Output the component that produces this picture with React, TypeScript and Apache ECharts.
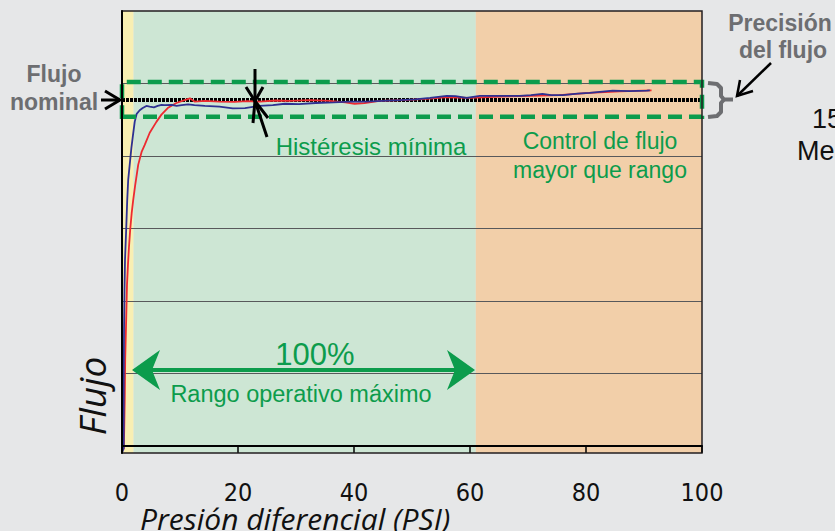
import React, { useEffect, useRef } from "react";
import * as echarts from "echarts";

// ---------- data ----------
const xTicks = [0, 20, 40, 60, 80, 100];
const gridValues = [10, 20, 30, 40, 50];
const nominalFlow = 47.8;
const precisionLow = 45.4;
const precisionHigh = 50.2;
const bandEdges = [0, 2, 61, 100]; // yellow, green (operative range), orange

const bluePsi = [0.05, 0.3, 0.3, 0.3, 0.35, 0.43, 0.52, 0.72, 0.9, 1.07, 1.33, 1.62, 1.9, 2.19, 2.53, 3.05, 3.57, 4.2, 4.78, 5.5, 6.16, 6.8, 7.36, 8.57, 9.4, 10.3, 11.4, 12.5, 14.3, 16.8, 19.1, 21.2, 23.7, 26.0, 28.1, 30.5, 33.4, 36.5, 39.3, 42.0, 44.9, 47.9, 50.5, 53.1, 56.0, 57.5, 59.4, 61.7, 65.1, 68.6, 70.5, 72.5, 74.0, 76.0, 78.5, 80.6, 84.6, 87.5, 90.5, 91.0];
const blueFlow = [-0.9, -0.3, 0.8, 9.1, 16.0, 21.5, 25.7, 29.8, 33.9, 36.7, 38.8, 41.1, 42.9, 44.7, 45.8, 46.3, 46.6, 46.9, 46.8, 46.7, 46.9, 47.05, 47.0, 47.05, 46.9, 47.0, 47.1, 47.0, 46.9, 46.8, 46.55, 46.6, 46.9, 47.0, 47.2, 47.15, 47.3, 47.4, 47.5, 47.5, 47.6, 47.7, 47.8, 48.0, 48.3, 48.25, 48.0, 48.3, 48.3, 48.3, 48.4, 48.55, 48.4, 48.4, 48.6, 48.7, 49.0, 48.95, 49.0, 49.05];

const redPsi = [0.3, 0.38, 0.47, 0.55, 0.72, 0.86, 1.03, 1.2, 1.41, 1.67, 1.93, 2.28, 2.8, 3.4, 3.9, 4.78, 5.93, 6.8, 7.88, 9.38, 10.8, 11.7, 12.5, 14.3, 16.8, 19.4, 21.5, 23.7, 26.5, 28.9, 32.4, 35.8, 38.5, 40.1, 41.8, 44.4, 48.7, 53.1, 56.0, 60.0, 65.1, 70.3, 75.4, 80.6, 85.8, 91.3];
const redFlow = [-0.5, 2.2, 6.3, 11.9, 17.4, 22.2, 25.0, 27.4, 29.8, 32.1, 33.9, 36.0, 38.8, 40.6, 41.5, 43.2, 44.7, 45.7, 46.6, 47.3, 47.7, 47.95, 47.5, 47.6, 47.5, 47.45, 47.55, 47.5, 47.65, 47.6, 47.7, 47.6, 47.4, 47.2, 47.3, 47.6, 47.7, 47.9, 48.1, 48.0, 48.2, 48.3, 48.4, 48.7, 48.9, 49.05];

// ---------- styles ----------
const GREEN = "#0c9c4c";
const GREY = "#6d6e71";
const SANS = "'Liberation Sans', Arial, Helvetica, sans-serif";
const NARROW = "'Liberation Sans Narrow', 'Arial Narrow', 'DejaVu Sans Condensed', sans-serif";
const ITALIC = "'Open Sans', 'Noto Sans', sans-serif";
const bandColors = ["#f8efb2", "#cde6d4", "#f2cfa9"];

function pairs(xs: number[], ys: number[]) {
  return xs.map((x, i) => [x, ys[i]]);
}

function buildOption(): any {
  const bandData = bandColors.map((c, i) => [
    { xAxis: bandEdges[i], itemStyle: { color: c } },
    { xAxis: bandEdges[i + 1] },
  ]);

  const K = "#000";
  const txt = (text: string, x: number, y: number, font: string, fill: string, align = "center", extra: any = {}) => ({
    type: "text",
    x,
    y,
    z: 50,
    ...extra,
    style: { text, fill, font, textAlign: align, textVerticalAlign: "middle" },
  });
  const graphic: any[] = [
    // Flujo nominal
    txt("Flujo", 54, 74, `bold 23px ${SANS}`, GREY),
    txt("nominal", 54, 102, `bold 23px ${SANS}`, GREY),
    { type: "line", z: 50, shape: { x1: 101, y1: 100, x2: 120, y2: 100 }, style: { stroke: K, lineWidth: 3 } },
    { type: "polyline", z: 50, shape: { points: [[105, 91], [120, 100], [105, 109]] }, style: { stroke: K, lineWidth: 3, fill: null } },
    // Hysteresis marker
    { type: "line", z: 50, shape: { x1: 255, y1: 69, x2: 255, y2: 101 }, style: { stroke: K, lineWidth: 3 } },
    { type: "polyline", z: 50, shape: { points: [[246, 87], [255, 101], [263, 87]] }, style: { stroke: K, lineWidth: 3, fill: null } },
    { type: "line", z: 50, shape: { x1: 267, y1: 137, x2: 255, y2: 101 }, style: { stroke: K, lineWidth: 3 } },
    { type: "polyline", z: 50, shape: { points: [[268, 118], [255, 101], [253, 123]] }, style: { stroke: K, lineWidth: 3, fill: null } },
    txt("Histéresis mínima", 371, 146, `24px ${SANS}`, GREEN),
    // Control de flujo
    txt("Control de flujo", 600, 141, `23px ${SANS}`, GREEN),
    txt("mayor que rango", 600, 170, `23px ${SANS}`, GREEN),
    // Precision
    txt("Precisión", 780, 23, `bold 23px ${SANS}`, GREY),
    txt("del flujo", 783, 50, `bold 23px ${SANS}`, GREY),
    { type: "line", z: 50, shape: { x1: 771, y1: 63, x2: 737, y2: 96 }, style: { stroke: K, lineWidth: 2.5 } },
    { type: "polyline", z: 50, shape: { points: [[740, 80], [737, 96], [753, 91]] }, style: { stroke: K, lineWidth: 2.5, fill: null } },
    { type: "polyline", z: 50, shape: { points: [[708, 83], [717, 84], [721, 88], [721, 96], [724, 99.5], [733, 99.5]] }, style: { stroke: GREY, lineWidth: 4, fill: null, lineJoin: "round" } },
    { type: "polyline", z: 50, shape: { points: [[724, 99.5], [721, 103], [721, 112], [717, 116], [708, 117]] }, style: { stroke: GREY, lineWidth: 4, fill: null, lineJoin: "round" } },
    txt("15", 812, 119, `27px ${SANS}`, "#111", "left"),
    txt("Me", 797, 151, `27px ${SANS}`, "#111", "left"),
    // Operating range arrow
    { type: "line", z: 50, shape: { x1: 150, y1: 370, x2: 457, y2: 370 }, style: { stroke: GREEN, lineWidth: 4 } },
    { type: "polygon", z: 50, shape: { points: [[132, 370], [160, 350], [152, 370], [160, 390]] }, style: { fill: GREEN } },
    { type: "polygon", z: 50, shape: { points: [[475, 370], [447, 350], [455, 370], [447, 390]] }, style: { fill: GREEN } },
    txt("100%", 315, 354, `31px ${SANS}`, GREEN),
    txt("Rango operativo máximo", 301, 394, `23.5px ${SANS}`, GREEN),
    // Axis titles
    txt("Flujo", 91, 396, `italic 37px ${ITALIC}`, "#111", "center", { rotation: Math.PI / 2 }),
    txt("Presión diferencial (PSI)", 140, 518, `italic 30px ${ITALIC}`, "#111", "left"),
  ];

  return {
    animation: false,
    backgroundColor: "#e6e7e8",
    grid: { left: 122, right: 133, top: 11, bottom: 78, show: false },
    xAxis: {
      type: "value",
      min: xTicks[0],
      max: xTicks[xTicks.length - 1],
      interval: xTicks[1] - xTicks[0],
      z: 20,
      axisLine: { show: true, lineStyle: { color: "#000", width: 2 } },
      axisTick: { show: true, length: 7, lineStyle: { color: "#000", width: 1.5 } },
      axisLabel: { margin: 27, fontSize: 25, fontFamily: NARROW, color: "#111" },
      splitLine: { show: false },
    },
    yAxis: {
      type: "value",
      min: -1,
      max: 60,
      z: 20,
      axisLine: { show: true, lineStyle: { color: "#000", width: 2 } },
      axisTick: { show: false },
      axisLabel: { show: false },
      splitLine: { show: false },
    },
    graphic,
    series: [
      {
        name: "bands",
        type: "line",
        data: [],
        silent: true,
        clip: false,
        markArea: { silent: true, z: 1, data: bandData },
      },
      {
        name: "grid",
        type: "line",
        data: [],
        silent: true,
        clip: false,
        markLine: {
          silent: true,
          z: 3,
          symbol: "none",
          label: { show: false },
          lineStyle: { color: "#58595b", width: 1, type: "solid" },
          data: gridValues.map((v) => ({ yAxis: v })),
        },
      },
      {
        name: "nominal",
        type: "line",
        data: [],
        silent: true,
        clip: false,
        markLine: {
          silent: true,
          z: 4,
          symbol: "none",
          label: { show: false },
          lineStyle: { color: "#000", width: 4, type: [3, 1] },
          data: [{ yAxis: nominalFlow }],
        },
      },
      {
        name: "descendente",
        type: "line",
        z: 10,
        showSymbol: false,
        data: pairs(redPsi, redFlow),
        lineStyle: { color: "#ed2a30", width: 1.8 },
      },
      {
        name: "ascendente",
        type: "line",
        z: 11,
        showSymbol: false,
        data: pairs(bluePsi, blueFlow),
        lineStyle: { color: "#2e3192", width: 1.8 },
      },
      {
        name: "precision",
        type: "line",
        data: [],
        silent: true,
        clip: false,
        markArea: {
          silent: true,
          z: 13,
          itemStyle: { color: "rgba(0,0,0,0)", borderColor: GREEN, borderWidth: 4.5, borderType: [14, 7] },
          data: [[{ xAxis: 0, yAxis: precisionLow }, { xAxis: 100, yAxis: precisionHigh }]],
        },
      },
      {
        name: "frame",
        type: "line",
        data: [],
        silent: true,
        clip: false,
        markArea: {
          silent: true,
          z: 14,
          itemStyle: { color: "rgba(0,0,0,0)", borderColor: "#231f20", borderWidth: 1.5 },
          data: [[{ xAxis: 0, yAxis: -1 }, { xAxis: 100, yAxis: 60 }]],
        },
      },
    ],
  };
}

export default function App() {
  const ref = useRef<HTMLDivElement>(null);
  useEffect(() => {
    document.body.style.margin = "0";
    const chart = echarts.init(ref.current!, null, { renderer: "svg" });
    chart.setOption(buildOption());
    return () => chart.dispose();
  }, []);
  return (
    <div
      ref={ref}
      style={{ position: "fixed", left: 0, top: 0, width: 835, height: 531 }}
    />
  );
}
